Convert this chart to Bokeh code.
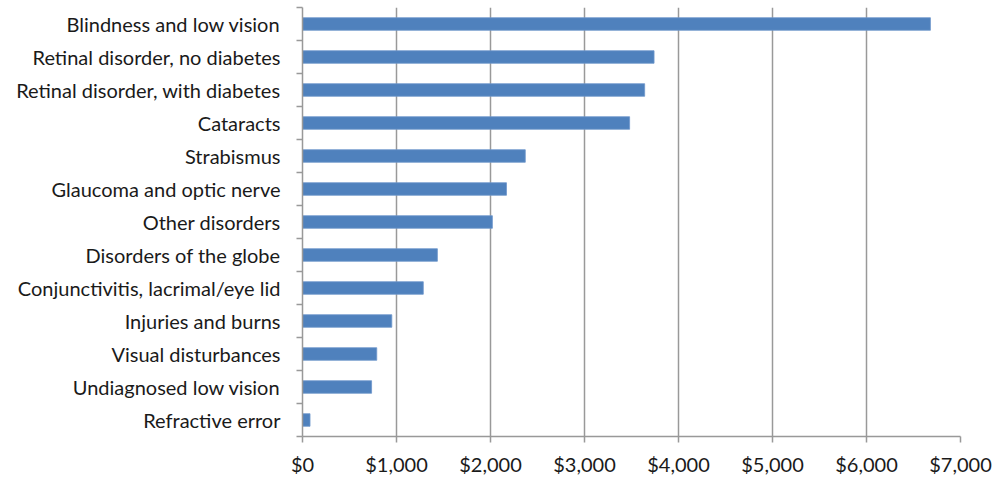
from bokeh.plotting import figure
from bokeh.models import FixedTicker, NumeralTickFormatter, Range1d, ColumnDataSource
from bokeh.embed import file_html
from bokeh.resources import INLINE

categories = [
    "Blindness and low vision",
    "Retinal disorder, no diabetes",
    "Retinal disorder, with diabetes",
    "Cataracts",
    "Strabismus",
    "Glaucoma and optic nerve",
    "Other disorders",
    "Disorders of the globe",
    "Conjunctivitis, lacrimal/eye lid",
    "Injuries and burns",
    "Visual disturbances",
    "Undiagnosed low vision",
    "Refractive error",
]
costs = [6680, 3740, 3640, 3480, 2370, 2170, 2020, 1435, 1285, 950, 790, 735, 80]
x_ticks = [0, 1000, 2000, 3000, 4000, 5000, 6000, 7000]

n = len(categories)
ypos = [n - 1 - i for i in range(n)]
src = ColumnDataSource(dict(y=ypos, cost=costs, name=categories))

FONT = "Lato"
GRAY = "#999999"

p = figure(width=992, height=478, output_backend="svg", toolbar_location=None,
           x_range=Range1d(0, 7000), y_range=Range1d(-0.5, n - 0.5),
           min_border_left=302, min_border_right=32, min_border_top=7, min_border_bottom=41)
p.outline_line_color = None

p.hbar(y="y", right="cost", left=0, height=0.38, source=src,
       fill_color="#4F81BD", line_color="#6f97cb", line_width=0.8)

# x axis
p.xaxis.ticker = FixedTicker(ticks=x_ticks)
p.xaxis.formatter = NumeralTickFormatter(format="$0,0")
p.xaxis.axis_line_color = GRAY
p.xaxis.axis_line_width = 1.5
p.xaxis.major_tick_line_color = GRAY
p.xaxis.major_tick_line_width = 1.5
p.xaxis.major_tick_out = 6
p.xaxis.major_tick_in = 0
p.xaxis.minor_tick_line_color = None
p.xaxis.major_label_text_font = FONT
p.xaxis.major_label_text_font_size = "20px"
p.xaxis.major_label_text_color = "#1a1a1a"
p.xaxis.major_label_standoff = 9

# y axis
bounds = [i - 0.5 for i in range(n + 1)]
p.yaxis.ticker = FixedTicker(ticks=ypos, minor_ticks=bounds)
p.yaxis.major_label_overrides = {yy: nm for yy, nm in zip(ypos, categories)}
p.yaxis.axis_line_color = GRAY
p.yaxis.axis_line_width = 1.5
p.yaxis.major_tick_line_color = None
p.yaxis.major_tick_out = 0
p.yaxis.major_tick_in = 0
p.yaxis.minor_tick_line_color = GRAY
p.yaxis.minor_tick_line_width = 1.5
p.yaxis.minor_tick_out = 6
p.yaxis.minor_tick_in = 0
p.yaxis.major_label_text_font = FONT
p.yaxis.major_label_text_font_size = "20px"
p.yaxis.major_label_text_color = "#1a1a1a"
p.yaxis.major_label_standoff = 16

# grid
p.xgrid.ticker = FixedTicker(ticks=x_ticks[1:])
p.xgrid.grid_line_color = GRAY
p.xgrid.grid_line_width = 1.5
p.ygrid.grid_line_color = None

open("out.html", "w").write(file_html(p, INLINE))
